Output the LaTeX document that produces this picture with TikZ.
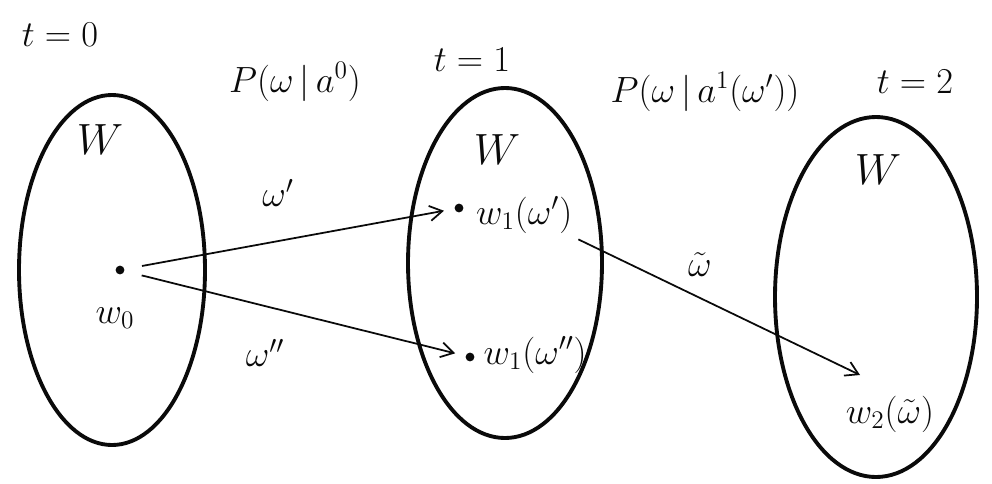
\documentclass[tikz,border=0pt]{standalone}
\usepackage{tikz}
\usetikzlibrary{arrows.meta}
\definecolor{inkBlack}{RGB}{10,10,10}

\begin{document}
\begin{tikzpicture}[line join=round,
  worldset/.style={draw=inkBlack,line width=2.2pt},
  pointdot/.style={circle,fill=inkBlack,inner sep=0pt,minimum size=5pt},
  stepline/.style={-{Straight Barb[length=2.5mm,width=3mm]},draw=inkBlack,line width=1pt},
  hand/.style={text=inkBlack,font=\fontsize{21}{25}\selectfont},
  bigw/.style={text=inkBlack,font=\fontsize{40}{46}\selectfont}]

% fixed canvas, 19.84cm x 9.66cm ("992x483" proportions)
\path[use as bounding box] (0,0) rectangle (19.84,9.66);

% three copies of the world set
\draw[worldset] (2.24,4.26) ellipse [x radius=1.86,y radius=3.5];
\draw[worldset] (10.10,4.40) ellipse [x radius=1.94,y radius=3.5];
\draw[worldset] (17.52,3.72) ellipse [x radius=2.02,y radius=3.6];

% time stamps and transition laws
\node[hand] (t0) at (1.2,8.96) {$t=0$};
\node[hand] (t1) at (9.44,8.46) {$t=1$};
\node[hand] (t2) at (18.3,8.02) {$t=2$};
\node[hand] (law0) at (5.9,8.02) {$P(\omega\,|\,a^0)$};
\node[hand] (law1) at (14.1,7.82) {$P(\omega\,|\,a^1(\omega'))$};

% set names
\node[bigw] (set0) at (2.0,6.86) {$W$};
\node[bigw] (set1) at (9.94,6.66) {$W$};
\node[bigw] (set2) at (17.56,6.26) {$W$};

% states
\node[pointdot] (w0) at (2.4,4.26) {};
\node[hand] (w0lab) at (2.3,3.3) {$w_0$};
\node[pointdot] (w1a) at (9.18,5.5) {};
\node[hand,anchor=west] (w1alab) at (9.4,5.36) {$w_1(\omega')$};
\node[pointdot] (w1b) at (9.4,2.52) {};
\node[hand,anchor=west] (w1blab) at (9.55,2.56) {$w_1(\omega'')$};
\coordinate (w2) at (17.2,2.16);
\node[hand] (w2lab) at (17.8,1.38) {$w_2(\tilde\omega)$};

% transitions
\draw[stepline,shorten <=10pt,shorten >=6pt] (w0) -- (w1a);
\draw[stepline,shorten <=10pt,shorten >=6pt] (w0) -- (w1b);
\draw[stepline] (w1alab.south east) -- (w2);

% transition labels
\node[hand] (lab1) at (5.56,5.8) {$\omega'$};
\node[hand] (lab2) at (5.3,2.6) {$\omega''$};
\node[hand] (lab3) at (14.0,4.36) {$\tilde\omega$};

\end{tikzpicture}
\end{document}
